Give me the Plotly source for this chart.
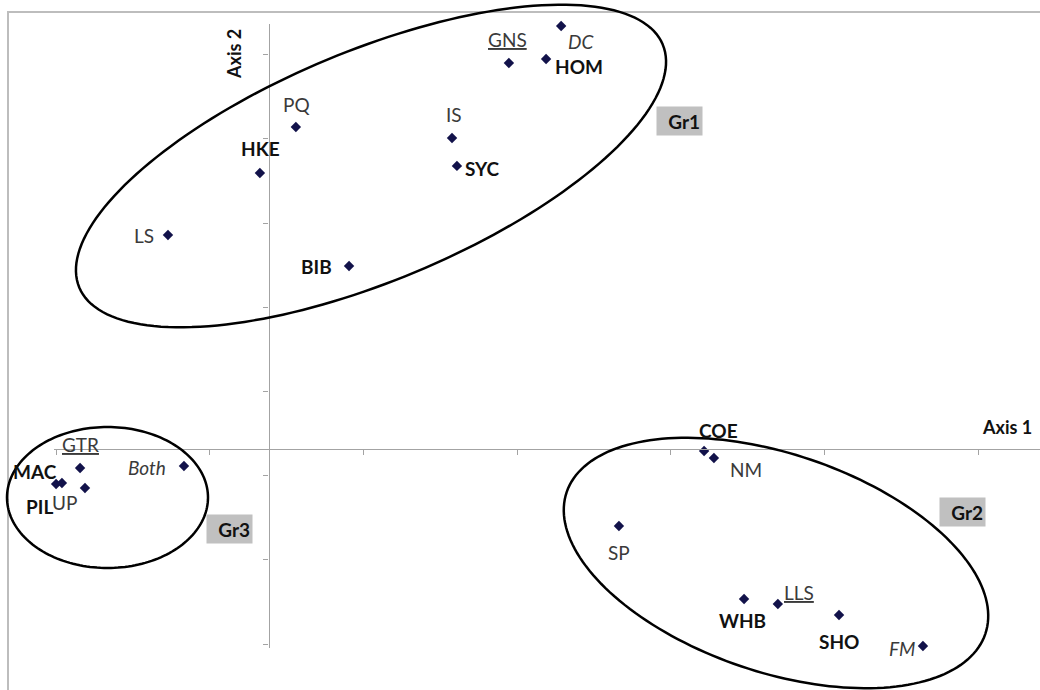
import math
import plotly.graph_objects as go

# ---------------- data (factor scores) ----------------
labels = ["DC", "GNS", "HOM", "PQ", "IS", "HKE", "SYC", "LS", "BIB",
          "GTR", "Both", "MAC", "PIL", "UP",
          "COE", "NM", "SP", "WHB", "LLS", "SHO", "FM"]
axis1 = [0.952, 0.782, 0.903, 0.089, 0.597, -0.028, 0.613, -0.327, 0.262,
         -0.613, -0.275, -0.691, -0.672, -0.597,
         1.417, 1.449, 1.140, 1.547, 1.657, 1.856, 2.129]
axis2 = [2.512, 2.292, 2.316, 1.912, 1.847, 1.639, 1.681, 1.271, 1.087,
         -0.113, -0.101, -0.208, -0.202, -0.232,
         -0.012, -0.053, -0.457, -0.891, -0.920, -0.986, -1.170]
group_names = ["Gr1", "Gr2", "Gr3"]
axis_titles = ["Axis 1", "Axis 2"]

bold_labels = {"HOM", "HKE", "SYC", "BIB", "MAC", "PIL", "COE", "WHB", "SHO"}
italic_labels = {"DC", "Both", "FM"}
underlined_labels = {"GNS", "GTR", "LLS"}

# ---------------- layout geometry (pixels) ----------------
W, H = 1040, 690
X0_PX, X_UNIT = 268.5, 307.4      # pixel of x=0, pixels per unit
Y0_PX, Y_UNIT = 449.0, 168.4      # pixel of y=0, pixels per unit
X_LEFT_PX, X_RIGHT_PX = 54, 1040
Y_TOP_PX, Y_BOT_PX = 24, 648


def px2x(px):
    return (px - X0_PX) / X_UNIT


def py2y(py):
    return (Y0_PX - py) / Y_UNIT


# label offsets in pixels (dx right, dy down)
label_offsets = {
    "DC": (20, 16), "GNS": (-1, -24), "HOM": (33, 8), "PQ": (1, -23),
    "IS": (2, -23), "HKE": (1, -24), "SYC": (26, 3), "LS": (-24, 1),
    "BIB": (-33, 1), "GTR": (0, -24), "Both": (-37, 1), "MAC": (-21, -13),
    "PIL": (-22, 23), "UP": (-20, 14), "COE": (14, -21), "NM": (32, 12),
    "SP": (0, 27), "WHB": (-2, 21), "LLS": (21, -11), "SHO": (0, 26),
    "FM": (-21, 2),
}

# group ellipses: centre px, semi axes px, tilt degrees (counter-clockwise)
ellipses = [
    dict(cx=371, cy=166, a=316, b=115, ang=22.6),
    dict(cx=776, cy=563, a=221, b=109, ang=-18.7),
    dict(cx=107.5, cy=497.5, a=100.5, b=70.5, ang=0.0),
]
group_box_px = [(679.5, 121), (962, 511.5), (229.5, 529)]

FONT = "Lato"
MARKER_COLOR = "#12124a"
AXIS_COLOR = "#a3a3a3"

fig = go.Figure()
fig.add_trace(go.Scatter(
    x=axis1, y=axis2, mode="markers",
    marker=dict(symbol="diamond", size=8, color=MARKER_COLOR),
    cliponaxis=False, hoverinfo="text", text=labels, showlegend=False,
))

annotations = []
for lab, xv, yv in zip(labels, axis1, axis2):
    txt = lab
    color = "#3a3a3a"
    if lab in bold_labels:
        txt = "<b>%s</b>" % txt
        color = "#111111"
    if lab in italic_labels:
        txt = "<i>%s</i>" % txt
    if lab in underlined_labels:
        txt = "<u>%s</u>" % txt
    dx, dy = label_offsets[lab]
    annotations.append(dict(
        x=xv, y=yv, xref="x", yref="y", text=txt, showarrow=False,
        xshift=dx, yshift=-dy, xanchor="center", yanchor="middle",
        font=dict(family=FONT, size=19, color=color),
    ))

for name, (bx, by) in zip(group_names, group_box_px):
    annotations.append(dict(
        x=px2x(bx), y=py2y(by), xref="x", yref="y", text="<b>%s</b>" % name,
        showarrow=False, xanchor="center", yanchor="middle",
        width=41, height=24, borderpad=2, align="right", valign="bottom",
        bgcolor="#c0c0c0", font=dict(family=FONT, size=19, color="#111111"),
    ))

annotations.append(dict(
    x=px2x(1007), y=py2y(427), xref="x", yref="y",
    text="<b>%s</b>" % axis_titles[0], showarrow=False,
    font=dict(family=FONT, size=18, color="#111111"),
))
annotations.append(dict(
    x=px2x(234), y=py2y(54), xref="x", yref="y",
    text="<b>%s</b>" % axis_titles[1], showarrow=False, textangle=-90,
    font=dict(family=FONT, size=18, color="#111111"),
))

shapes = []
for e in ellipses:
    th = math.radians(e["ang"])
    pts = []
    n = 180
    for k in range(n + 1):
        t = 2 * math.pi * k / n
        ux = e["a"] * math.cos(t)
        uy = e["b"] * math.sin(t)
        px = e["cx"] + ux * math.cos(th) + uy * math.sin(th)
        py = e["cy"] - ux * math.sin(th) + uy * math.cos(th)
        pts.append((px / W, 1 - py / H))
    path = "M " + " L ".join("%.5f,%.5f" % p for p in pts) + " Z"
    shapes.append(dict(type="path", path=path, xref="paper", yref="paper",
                       line=dict(color="black", width=2.5), layer="above"))

# chart border (extends past right/bottom edges)
shapes.append(dict(type="rect", xref="paper", yref="paper",
                   x0=8 / W, x1=1.02, y0=-0.02, y1=1 - 12 / H,
                   line=dict(color="#bdbdbd", width=2), layer="below"))

fig.update_layout(
    width=W, height=H, autosize=False,
    margin=dict(l=0, r=0, t=0, b=0, pad=0),
    paper_bgcolor="white", plot_bgcolor="rgba(0,0,0,0)",
    showlegend=False,
    xaxis=dict(
        domain=[X_LEFT_PX / W, X_RIGHT_PX / W],
        range=[px2x(X_LEFT_PX), px2x(X_RIGHT_PX)],
        anchor="free", position=1 - Y0_PX / H,
        showline=True, linecolor=AXIS_COLOR, linewidth=1.3,
        ticks="outside", ticklen=5, tickwidth=1, tickcolor=AXIS_COLOR,
        tickmode="linear", tick0=px2x(56), dtick=0.5,
        showticklabels=False, showgrid=False, zeroline=False,
    ),
    yaxis=dict(
        domain=[1 - Y_BOT_PX / H, 1 - Y_TOP_PX / H],
        range=[py2y(Y_BOT_PX), py2y(Y_TOP_PX)],
        anchor="free", position=X0_PX / W,
        showline=True, linecolor=AXIS_COLOR, linewidth=1.3,
        ticks="outside", ticklen=5, tickwidth=1, tickcolor=AXIS_COLOR,
        tickmode="linear", tick0=py2y(644), dtick=0.5,
        showticklabels=False, showgrid=False, zeroline=False,
    ),
    annotations=annotations,
    shapes=shapes,
)

fig.write_html(
    "out.html",
    config={"displayModeBar": False},
    post_script="document.body.style.margin='0px';"
                "document.body.style.overflow='hidden';",
)
